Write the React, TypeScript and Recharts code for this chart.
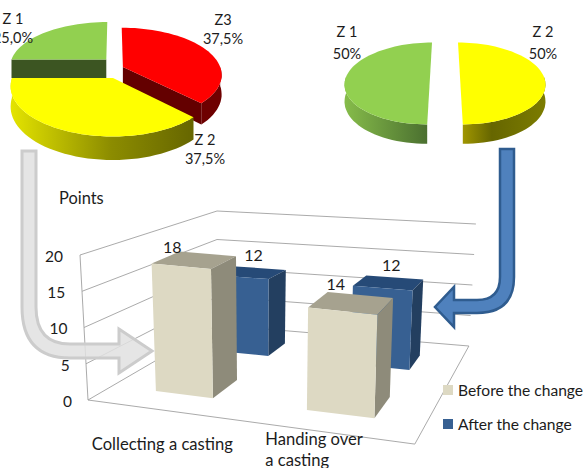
import React from 'react'
import {
  BarChart,
  Bar,
  XAxis,
  YAxis,
  CartesianGrid,
  LabelList,
  Legend,
  PieChart,
  Pie,
} from 'recharts'

// pies
const leftNames = ['Z3', 'Z 2', 'Z 1']
const leftValues = [37.5, 37.5, 25]
const rightNames = ['Z 2', 'Z 1']
const rightValues = [50, 50]

// columns
const categories = ['Collecting a casting', 'Handing over a casting']
const beforeValues = [18, 14]
const afterValues = [12, 12]
const yTicks = [0, 5, 10, 15, 20]

const leftPie = leftNames.map((name, i) => ({ name, value: leftValues[i] }))
const rightPie = rightNames.map((name, i) => ({ name, value: rightValues[i] }))
const columns = categories.map((name, i) => ({ name, before: beforeValues[i], after: afterValues[i] }))

const FONT = 'Lato, sans-serif'
const INK = '#1c1c1c'
const W = 584
const H = 468
const PLOT = { left: 88, top: 255, width: 327, height: 145 }
const Y_MAX = 20
const BAR_W = 65

// floor quad -> homography, so columns sit in the same perspective as the grid
const G = -0.1634
const HH = 0.3326
const floor = (u: number, v: number) => {
  const d = G * u + HH * v + 1
  return { x: (259 * u + 201.2 * v + 88) / d, y: (-28.5 * u + 33.1 * v + 400) / d }
}
const mix = (a: number, b: number, t: number) => a + (b - a) * t
const project = (u: number, v: number, units: number) => {
  const f = floor(u, v)
  const ux = mix(mix(-0.4, 0.3, u), mix(0, 0.35, u), v)
  const uy = mix(mix(-7.25, -7.7, u), mix(-5.7, -6.1, u), v)
  return { x: f.x + ux * units, y: f.y + uy * units }
}
const poly = (pts: { x: number; y: number }[]) => pts.map((p) => `${p.x.toFixed(1)},${p.y.toFixed(1)}`).join(' ')

function GridLine(props: any) {
  const units = ((PLOT.top + PLOT.height - props.y1) / PLOT.height) * Y_MAX
  const wall = [project(0, 0, units), project(0, 1, units), project(1, 1, units)]
  return (
    <g key={props.key}>
      <polyline points={poly(wall)} fill="none" stroke="#a0a0a0" strokeWidth={0.9} />
      {units === 0 && (
        <polyline points={poly([project(0, 0, 20), project(0, 0, 0), project(1, 0, 0), project(1, 1, 0)])} fill="none" stroke="#a0a0a0" strokeWidth={0.9} />
      )}
    </g>
  )
}

const toU = (x: number) => (x - PLOT.left) / PLOT.width + 0.01

function Column(props: any) {
  const { x, width, height, depth, look } = props
  const h = (height / PLOT.height) * Y_MAX
  const u0 = toU(x)
  const u1 = toU(x + width)
  const [v0, v1] = depth
  return (
    <g>
      <polygon points={poly([project(u0, v0, h), project(u1, v0, h), project(u1, v1, h), project(u0, v1, h)])} fill={look.top} />
      <polygon points={poly([project(u1, v0, 0), project(u1, v1, 0), project(u1, v1, h), project(u1, v0, h)])} fill={look.side} />
      <polygon points={poly([project(u0, v0, 0), project(u1, v0, 0), project(u1, v0, h), project(u0, v0, h)])} fill={look.front} />
    </g>
  )
}

const columnLabel = (depth: number[], nudge: number[][]) => (props: any) => {
  const { x, width, height, value, index } = props
  const h = (height / PLOT.height) * Y_MAX
  const p = project(toU(x + width / 2), depth[1], h)
  return (
    <text x={p.x + nudge[index][0]} y={p.y + nudge[index][1]} textAnchor="middle" dominantBaseline="middle" fontFamily={FONT} fontSize={16} fill={INK}>
      {value}
    </text>
  )
}

function YTick({ y, payload }: any) {
  const lean = (1 - payload.value / Y_MAX) * 9
  return (
    <text x={63 + lean} y={y + 3} textAnchor="end" dominantBaseline="middle" fontFamily={FONT} fontSize={15.5} fill={INK}>
      {payload.value}
    </text>
  )
}

const X_LINES = [['Collecting a casting'], ['Handing over', 'a casting']]
const X_SHIFT = [-78, -68]
const X_ROW = [[38], [33, 54]]

function XTick({ x, y, index }: any) {
  return (
    <g>
      {X_LINES[index].map((line, i) => (
        <text key={i} x={x + X_SHIFT[index]} y={y + X_ROW[index][i]} dominantBaseline="middle" fontFamily={FONT} fontSize={16.6} fill={INK}>
          {line}
        </text>
      ))}
    </g>
  )
}

function ColumnLegend({ payload }: any) {
  return (
    <div style={{ fontFamily: FONT, fontSize: 15.6, color: INK }}>
      {[...(payload ?? [])].reverse().map((item: any) => (
        <div key={item.value} style={{ display: 'flex', alignItems: 'center', height: 34, whiteSpace: 'nowrap' }}>
          <span style={{ width: 10, height: 10, background: item.color, marginRight: 5 }} />
          {item.value}
        </div>
      ))}
    </div>
  )
}

// flattened disc with a bit of perspective, back of the pie is squeezed
const K = 0.475
const PERSP = 0.158
const DROP = 0.195

function rim(cx: number, cy: number, R: number, sx: number, sy: number, deg: number, r = 1) {
  const a = (deg * Math.PI) / 180
  const w = 1 + PERSP * (r * Math.sin(a) + sy / (K * R))
  const x = cx + (r * R * Math.cos(a) + sx) / w
  const y = cy - (r * R * K * Math.sin(a) + sy) / w
  return { x, y, drop: (DROP * R) / w }
}

function Slice3D(props: any) {
  const { cx, cy, outerRadius: R, startAngle, endAngle, look } = props
  const [sx, sy] = look.shift
  const arc: number[] = []
  for (let a = startAngle; a > endAngle; a -= 3) arc.push(a)
  arc.push(endAngle)
  const at = (deg: number, r = 1) => rim(cx, cy, R, sx, sy, deg, r)
  const lower = (p: any) => ({ x: p.x, y: p.y + p.drop })
  const visible = arc.filter((a) => Math.sin((a * Math.PI) / 180) <= 0.001)
  const wall = visible.map((a) => at(a))
  const cut = (deg: number) => {
    const apex = at(deg, 0)
    const edge = at(deg)
    return poly([apex, edge, lower(edge), lower(apex)])
  }
  const faces: number[] = []
  if (Math.sin(((startAngle + 90) * Math.PI) / 180) < -0.1) faces.push(startAngle)
  if (Math.sin(((endAngle - 90) * Math.PI) / 180) < -0.1) faces.push(endAngle)
  return (
    <g>
      {wall.length > 1 && <polygon points={poly([...wall, ...[...wall].reverse().map(lower)])} fill={look.wall} />}
      {faces.map((deg) => (
        <polygon key={deg} points={cut(deg)} fill={look.cut} />
      ))}
      <polygon points={poly([at(0, 0), ...arc.map((a) => at(a))])} fill={look.top} />
    </g>
  )
}

const LEFT_LOOK: Record<string, any> = {
  Z3: { top: '#ff0000', wall: '#6e0000', cut: '#640000', shift: [9, 5] },
  'Z 2': { top: '#ffff00', wall: 'url(#wallYellow)', cut: '#666600', shift: [-1, -6] },
  'Z 1': { top: '#92d050', wall: '#3c5522', cut: '#3c5522', shift: [-8, 13] },
}
const RIGHT_LOOK: Record<string, any> = {
  'Z 2': { top: '#ffff00', wall: 'url(#wallYellowR)', cut: '#666600', shift: [15, 0] },
  'Z 1': { top: '#92d050', wall: 'url(#wallGreen)', cut: '#4b7030', shift: [-15, 0] },
}

const LEFT_TEXT: Record<string, number[]> = {
  Z3: [109, -51, -32],
  'Z 2': [91, 69, 88],
  'Z 1': [-101, -52, -33],
}
const RIGHT_TEXT: Record<string, number[]> = {
  'Z 2': [98, -44, -22],
  'Z 1': [-98, -44, -22],
}

const pieLabel = (spots: Record<string, number[]>, digits: number) => (props: any) => {
  const { cx, cy, name, percent } = props
  const [dx, y1, y2] = spots[name]
  const text = (percent * 100).toFixed(digits).replace('.', ',') + '%'
  return (
    <g fontFamily={FONT} fontSize={14.5} fill={INK}>
      <text x={cx + dx} y={cy + y1} textAnchor="middle" dominantBaseline="middle">{name}</text>
      <text x={cx + dx} y={cy + y2} textAnchor="middle" dominantBaseline="middle">{text}</text>
    </g>
  )
}

const BEFORE_LOOK = { front: '#ddd9c3', top: '#a6a28f', side: '#8e8b7a' }
const AFTER_LOOK = { front: '#376092', top: '#264a77', side: '#233f60' }
const BEFORE_DEPTH = [0.15, 0.345]
const AFTER_DEPTH = [0.64, 0.82]

export default function App() {
  return (
    <div style={{ position: 'absolute', left: 0, top: 0, width: W, height: H, overflow: 'hidden', background: '#fff' }}>
      <div style={{ position: 'absolute', left: 0, top: 0 }}>
        <BarChart
          width={W}
          height={H}
          data={columns}
          margin={{ top: PLOT.top, right: W - PLOT.left - PLOT.width, bottom: 0, left: 0 }}
          barSize={BAR_W}
          barGap={-BAR_W}
        >
          <CartesianGrid vertical={false} horizontal={(p: any) => <GridLine {...p} />} />
          <XAxis dataKey="name" height={68} axisLine={false} tickLine={false} interval={0} tick={<XTick />} />
          <YAxis width={PLOT.left} domain={[0, Y_MAX]} ticks={yTicks} axisLine={false} tickLine={false} tick={<YTick />} />
          <Legend
            layout="vertical"
            align="center"
            verticalAlign="middle"
            wrapperStyle={{ left: 443, top: 373, width: 141 }}
            content={<ColumnLegend />}
          />
          <Bar
            dataKey="after"
            name="After the change"
            fill={AFTER_LOOK.front}
            isAnimationActive={false}
            shape={(p: any) => <Column {...p} depth={AFTER_DEPTH} look={AFTER_LOOK} />}
          >
            <LabelList dataKey="after" content={columnLabel(AFTER_DEPTH, [[-7, -11], [-3, -11]])} />
          </Bar>
          <Bar
            dataKey="before"
            name="Before the change"
            fill={BEFORE_LOOK.front}
            isAnimationActive={false}
            shape={(p: any) => <Column {...p} depth={BEFORE_DEPTH} look={BEFORE_LOOK} />}
          >
            <LabelList dataKey="before" content={columnLabel(BEFORE_DEPTH, [[-35, -5], [-24, -9]])} />
          </Bar>
        </BarChart>
      </div>

      <div style={{ position: 'absolute', left: 0, top: 0 }}>
        <PieChart width={W} height={190} margin={{ top: 0, right: 0, bottom: 0, left: 0 }}>
          <defs>
            <linearGradient id="wallYellow" x1="0" y1="0" x2="1" y2="0">
              <stop offset="0" stopColor="#e4e400" />
              <stop offset="0.55" stopColor="#8c8c00" />
              <stop offset="1" stopColor="#666600" />
            </linearGradient>
            <linearGradient id="wallYellowR" x1="0" y1="0" x2="1" y2="0">
              <stop offset="0" stopColor="#a09600" />
              <stop offset="0.35" stopColor="#666600" />
              <stop offset="1" stopColor="#7c7c00" />
            </linearGradient>
            <linearGradient id="wallGreen" x1="0" y1="0" x2="1" y2="0">
              <stop offset="0" stopColor="#86bc4a" />
              <stop offset="1" stopColor="#4b7030" />
            </linearGradient>
          </defs>
          <Pie
            data={leftPie}
            dataKey="value"
            nameKey="name"
            cx={114}
            cy={72}
            outerRadius={99}
            startAngle={90}
            endAngle={-270}
            stroke="none"
            isAnimationActive={false}
            labelLine={false}
            label={pieLabel(LEFT_TEXT, 1)}
            shape={(p: any) => <Slice3D {...p} look={LEFT_LOOK[p.name ?? p.payload?.name]} />}
          />
          <Pie
            data={rightPie}
            dataKey="value"
            nameKey="name"
            cx={445}
            cy={77}
            outerRadius={84}
            startAngle={90}
            endAngle={-270}
            stroke="none"
            isAnimationActive={false}
            labelLine={false}
            label={pieLabel(RIGHT_TEXT, 0)}
            shape={(p: any) => <Slice3D {...p} look={RIGHT_LOOK[p.name ?? p.payload?.name]} />}
          />
        </PieChart>
      </div>

      <svg width={W} height={H} style={{ position: 'absolute', left: 0, top: 0, pointerEvents: 'none' }}>
        <text x={59} y={200} dominantBaseline="middle" fontFamily={FONT} fontSize={16.4} fill={INK}>Points</text>
        <path
          d="M22 151 H36 V307 Q36 344 70 344 H119 V329 L152 351 L119 373 V358 H70 Q22 358 22 307 Z"
          fill="#e0e0e0"
          fillOpacity={0.85}
          stroke="#cccccc"
          strokeWidth={3}
        />
        <path
          d="M500 149 H514 V277 Q514 313 477 313 H454 V327 L435 307 L454 287 V300 H477 Q500 300 500 277 Z"
          fill="#4f81bd"
          stroke="#2f5c8f"
          strokeWidth={2.5}
        />
      </svg>
    </div>
  )
}
